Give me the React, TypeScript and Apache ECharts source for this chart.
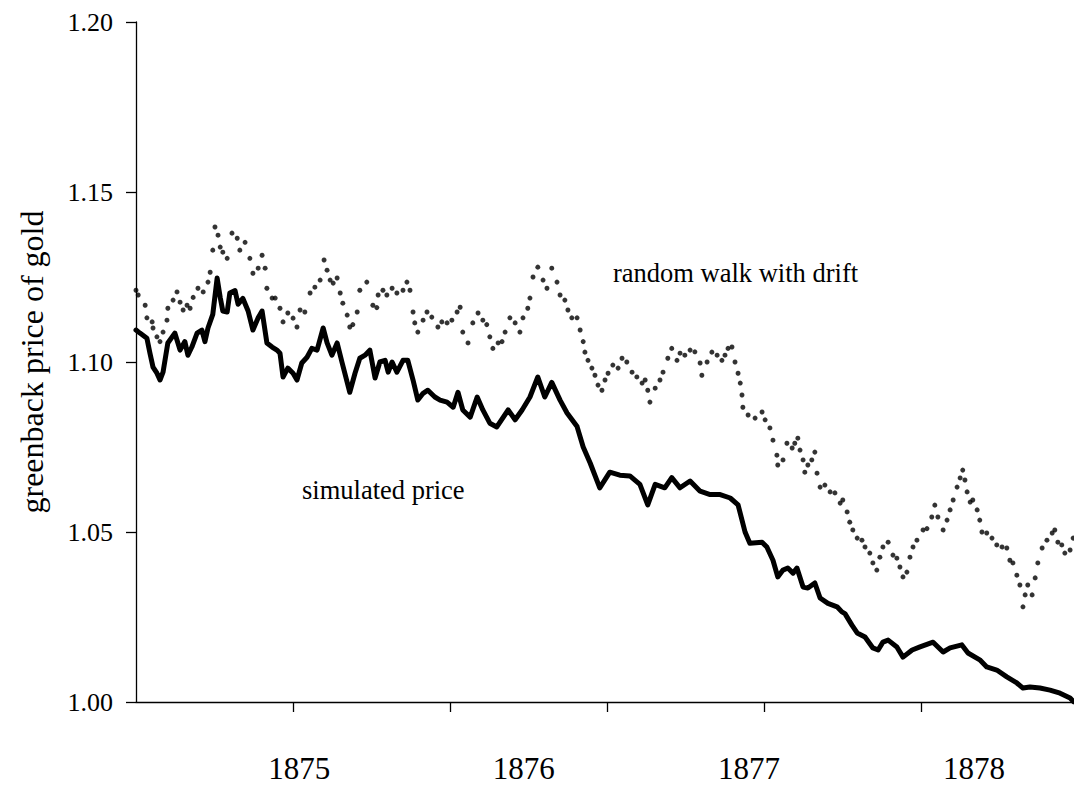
import React, { useEffect, useRef } from "react";
import * as echarts from "echarts";

// x unit: weeks since the first observation
const yearLabels = ["1875", "1876", "1877", "1878"];
const yearLabelWeeks = [37.4, 88.9, 140.5, 192.1];
const tickWeeks = [36, 72, 108, 144, 180];
const yMin = 1.0;
const yMax = 1.2;
const yStep = 0.05;

const simulatedPrice: [number, number][] = [
  [0, 1.1094], [0.9, 1.1085], [2.5, 1.107], [3.2, 1.1026], [3.9, 1.0985], [4.8, 1.0967],
  [5.5, 1.0947], [6.2, 1.097], [7.3, 1.1056], [8.9, 1.1085], [10.1, 1.1035], [11.2, 1.106],
  [11.9, 1.102], [12.8, 1.1044], [14.0, 1.1085], [15.1, 1.1094], [15.8, 1.106], [16.5, 1.11],
  [17.6, 1.114], [18.6, 1.1247], [19.3, 1.119], [19.9, 1.115], [20.9, 1.1147], [21.5, 1.1203],
  [22.7, 1.121], [23.4, 1.117], [24.5, 1.1187], [25.7, 1.115], [26.8, 1.1094], [28.0, 1.113],
  [28.9, 1.115], [30.0, 1.1056], [31.2, 1.1044], [32.3, 1.1035], [33.0, 1.1026], [33.7, 1.0956],
  [34.8, 1.0982], [36.0, 1.0967], [36.9, 1.0947], [38.0, 1.0997], [39.2, 1.1014], [40.3, 1.104],
  [41.5, 1.1035], [42.9, 1.11], [43.8, 1.1056], [44.9, 1.102], [46.1, 1.1056], [47.2, 1.1],
  [49.0, 1.0911], [50.2, 1.0967], [51.3, 1.1011], [52.5, 1.102], [53.6, 1.1035], [54.8, 1.0953],
  [55.9, 1.1], [57.1, 1.1005], [57.8, 1.097], [58.7, 1.1], [59.8, 1.097], [61.2, 1.1005],
  [62.3, 1.1005], [63.5, 1.0947], [64.6, 1.0888], [65.8, 1.0908], [66.9, 1.0917], [68.5, 1.0897],
  [69.7, 1.0888], [71.3, 1.0882], [72.7, 1.0867], [73.8, 1.0911], [74.9, 1.0859], [76.6, 1.0838],
  [78.2, 1.0897], [79.5, 1.0859], [81.1, 1.082], [82.7, 1.0809], [85.3, 1.0859], [86.9, 1.083],
  [88.5, 1.0859], [90.3, 1.0897], [92.1, 1.0956], [93.7, 1.0897], [95.3, 1.094], [97.2, 1.0888],
  [98.8, 1.085], [101.1, 1.081], [102.5, 1.075], [104.1, 1.0703], [106.3, 1.063], [108.6, 1.0676],
  [110.9, 1.0667], [113.2, 1.0665], [115.5, 1.064], [117.3, 1.058], [119.0, 1.064], [121.2, 1.063],
  [122.8, 1.066], [124.7, 1.063], [127.0, 1.065], [129.3, 1.062], [131.6, 1.061], [133.9, 1.061],
  [136.2, 1.06], [138.0, 1.058], [139.6, 1.05], [140.7, 1.0467], [143.5, 1.047], [144.6, 1.0456],
  [146.0, 1.0417], [147.1, 1.0368], [148.3, 1.0388], [149.4, 1.0394], [150.6, 1.0379], [151.5, 1.0394],
  [152.9, 1.0338], [154.0, 1.0335], [155.6, 1.035], [156.8, 1.0306], [158.6, 1.029], [160.7, 1.028],
  [161.8, 1.0265], [162.5, 1.026], [164.1, 1.0226], [165.3, 1.0203], [167.1, 1.0191], [168.9, 1.0159],
  [170.1, 1.0153], [171.2, 1.0176], [172.4, 1.0182], [174.4, 1.0162], [175.8, 1.0132], [177.9, 1.0153],
  [179.7, 1.0162], [182.7, 1.0176], [185.0, 1.0147], [186.6, 1.0159], [189.3, 1.0168], [190.7, 1.0144],
  [193.4, 1.0124], [195.0, 1.0103], [197.3, 1.0094], [199.6, 1.0074], [201.9, 1.0056], [203.3, 1.0041],
  [204.9, 1.0044], [207.2, 1.0041], [209.5, 1.0035], [211.8, 1.0026], [214.1, 1.0012], [215, 1.0],
];

const randomWalk: [number, number][] = [
  [0, 1.1211], [0.5, 1.1197], [2.1, 1.1167], [2.5, 1.113], [3.7, 1.1118], [3.9, 1.11],
  [4.8, 1.1074], [5.5, 1.106], [6.2, 1.1088], [7.1, 1.1123], [7.3, 1.1158], [8.5, 1.1182],
  [9.4, 1.1206], [10.1, 1.1176], [10.8, 1.1153], [11.7, 1.1167], [12.4, 1.1158], [13.1, 1.119],
  [14.2, 1.1217], [15.4, 1.1206], [16.5, 1.1235], [17.0, 1.1264], [17.6, 1.1329], [18.1, 1.1397],
  [18.8, 1.1373], [19.3, 1.1338], [19.9, 1.1323], [20.9, 1.1305], [22.0, 1.1379], [23.2, 1.1364],
  [23.8, 1.1329], [25.0, 1.1352], [26.1, 1.1305], [26.8, 1.1261], [28.0, 1.1276], [28.9, 1.1314],
  [29.6, 1.1276], [30.0, 1.1217], [31.2, 1.1188], [31.9, 1.1188], [33.0, 1.1158], [33.7, 1.1118],
  [34.8, 1.1144], [36.0, 1.1129], [36.9, 1.1103], [37.6, 1.1153], [38.7, 1.1147], [39.9, 1.1203],
  [41.0, 1.122], [42.2, 1.1241], [43.1, 1.13], [43.8, 1.127], [44.5, 1.1241], [45.2, 1.1232],
  [46.1, 1.1247], [46.8, 1.1203], [47.4, 1.1173], [48.4, 1.1138], [49.0, 1.1103], [49.7, 1.111],
  [50.7, 1.1147], [51.3, 1.1211], [52.9, 1.1235], [54.3, 1.1167], [55.2, 1.116], [55.5, 1.1197],
  [56.6, 1.1211], [57.5, 1.1197], [58.7, 1.1217], [59.8, 1.1203], [61.2, 1.1211], [62.1, 1.1235],
  [62.8, 1.1211], [63.5, 1.1147], [63.9, 1.1115], [64.6, 1.1088], [65.8, 1.1123], [66.7, 1.1147],
  [67.8, 1.1132], [69.2, 1.1103], [70.1, 1.1118], [71.3, 1.1115], [72.4, 1.1123], [73.6, 1.1147],
  [74.3, 1.1161], [74.9, 1.1088], [76.1, 1.1056], [77.2, 1.1115], [78.4, 1.1144], [79.5, 1.1123],
  [80.4, 1.111], [81.1, 1.1074], [81.8, 1.104], [83.0, 1.1056], [83.9, 1.106], [84.6, 1.1088],
  [85.7, 1.113], [86.9, 1.1115], [88.0, 1.1088], [88.7, 1.113], [89.8, 1.1158], [90.3, 1.1188],
  [91.0, 1.125], [92.1, 1.1279], [93.3, 1.1241], [94.2, 1.1217], [95.3, 1.1276], [96.5, 1.1235],
  [97.2, 1.1197], [98.3, 1.1182], [99.0, 1.1153], [99.9, 1.113], [101.1, 1.113], [101.8, 1.1094],
  [102.5, 1.106], [102.9, 1.1029], [103.6, 1.1005], [104.5, 1.0982], [105.2, 1.0961], [105.9, 1.0932],
  [106.8, 1.0917], [107.5, 1.0947], [108.2, 1.0967], [109.3, 1.0991], [110.5, 1.0982], [111.4, 1.1011],
  [112.5, 1.1], [113.7, 1.097], [114.8, 1.0956], [116.0, 1.0938], [116.7, 1.0947], [117.3, 1.0917],
  [117.8, 1.0882], [119.0, 1.0923], [120.1, 1.0947], [120.8, 1.097], [121.9, 1.1011], [122.8, 1.104],
  [124.0, 1.1005], [124.7, 1.1026], [125.8, 1.102], [127.0, 1.1035], [128.1, 1.103], [129.3, 1.0997],
  [129.7, 1.0961], [130.9, 1.1], [132.0, 1.1029], [133.2, 1.102], [134.3, 1.1005], [135.0, 1.102],
  [135.7, 1.104], [136.6, 1.1044], [137.3, 1.1], [138.0, 1.0967], [138.5, 1.0938], [138.9, 1.0903],
  [139.1, 1.0867], [140.3, 1.0844], [141.9, 1.0835], [143.5, 1.0853], [144.2, 1.083], [145.3, 1.0806],
  [146.0, 1.077], [146.9, 1.0726], [147.1, 1.0697], [148.3, 1.0712], [149.2, 1.0761], [150.4, 1.0747],
  [151.0, 1.0761], [151.7, 1.0776], [152.2, 1.0741], [152.9, 1.0712], [153.3, 1.0676], [154.0, 1.0697],
  [154.9, 1.0712], [155.6, 1.0735], [156.1, 1.0673], [156.8, 1.0632], [157.9, 1.0638], [159.1, 1.0618],
  [160.2, 1.0615], [161.4, 1.0585], [162.0, 1.0594], [163.0, 1.0559], [163.6, 1.0529], [164.3, 1.0506],
  [165.3, 1.0482], [166.4, 1.0476], [167.1, 1.0456], [168.2, 1.0438], [168.9, 1.0409], [169.8, 1.0388],
  [170.5, 1.0426], [171.2, 1.0456], [172.4, 1.047], [173.5, 1.0432], [174.4, 1.0423], [175.1, 1.0397],
  [175.8, 1.0368], [176.7, 1.0382], [177.4, 1.0426], [178.1, 1.0456], [179.0, 1.0476], [180.4, 1.0506],
  [181.3, 1.051], [182.4, 1.0544], [183.1, 1.0579], [183.8, 1.0544], [185.0, 1.0506], [185.9, 1.0535],
  [186.6, 1.0565], [187.3, 1.0594], [188.2, 1.0632], [188.9, 1.0659], [189.5, 1.0682], [190.0, 1.0653],
  [190.5, 1.0618], [191.2, 1.0588], [191.8, 1.0594], [192.8, 1.0565], [193.4, 1.0535], [193.9, 1.05],
  [195.0, 1.0497], [196.2, 1.0482], [197.3, 1.0462], [198.5, 1.0456], [199.6, 1.0453], [200.3, 1.0417],
  [201.0, 1.0409], [201.9, 1.0373], [202.6, 1.0344], [203.3, 1.028], [203.8, 1.0315], [204.4, 1.0344],
  [205.4, 1.0315], [206.1, 1.0365], [206.7, 1.0409], [207.7, 1.0453], [208.8, 1.0476], [210.0, 1.0497],
  [210.6, 1.0506], [211.3, 1.047], [212.2, 1.0462], [212.9, 1.0438], [214.1, 1.0447], [214.8, 1.0482],
];

const FONT = '"Liberation Serif", "Times New Roman", serif';

export default function App() {
  const ref = useRef<HTMLDivElement>(null);

  useEffect(() => {
    if (!ref.current) return;
    const chart = echarts.init(ref.current, null, { renderer: "svg" });
    chart.setOption({
      animation: false,
      backgroundColor: "#ffffff",
      grid: { left: 136, right: 0, top: 22, bottom: 83, containLabel: false },
      xAxis: {
        type: "value",
        min: 0,
        max: 215,
        axisLine: { show: true, lineStyle: { color: "#000", width: 1.3 } },
        axisTick: {
          show: true,
          customValues: tickWeeks,
          length: 10,
          inside: false,
          lineStyle: { color: "#000", width: 1.3 },
        },
        axisLabel: {
          show: true,
          customValues: yearLabelWeeks,
          formatter: (v: number) => {
            const i = yearLabelWeeks.findIndex((w) => Math.abs(w - v) < 0.01);
            return i >= 0 ? yearLabels[i] : "";
          },
          margin: 66,
          verticalAlign: "middle",
          fontSize: 31,
          fontFamily: FONT,
          color: "#000",
        },
        splitLine: { show: false },
      },
      yAxis: {
        type: "value",
        min: yMin,
        max: yMax,
        interval: yStep,
        name: "greenback price of gold",
        nameLocation: "middle",
        nameGap: 88,
        nameRotate: 90,
        nameTextStyle: { fontSize: 32, fontFamily: FONT, color: "#000" },
        axisLine: { show: true, lineStyle: { color: "#000", width: 1.3 } },
        axisTick: { show: true, length: 10, inside: false, lineStyle: { color: "#000", width: 1.3 } },
        axisLabel: {
          formatter: (v: number) => v.toFixed(2),
          margin: 23,
          fontSize: 26,
          fontFamily: FONT,
          color: "#000",
        },
        splitLine: { show: false },
      },
      series: [
        {
          name: "simulated price",
          type: "line",
          data: simulatedPrice,
          symbol: "none",
          showSymbol: false,
          lineStyle: { color: "#000", width: 5, join: "round", cap: "round" },
          z: 3,
        },
        {
          name: "random walk with drift",
          type: "scatter",
          data: randomWalk,
          symbol: "circle",
          symbolSize: 5,
          itemStyle: { color: "#000" },
          z: 4,
        },
      ],
      graphic: [
        {
          type: "text",
          x: 613,
          y: 273,
          style: {
            text: "random walk with drift",
            fontSize: 26.5,
            fontFamily: FONT,
            fill: "#000",
            align: "left",
            verticalAlign: "middle",
          },
        },
        {
          type: "text",
          x: 302,
          y: 490,
          style: {
            text: "simulated price",
            fontSize: 26.5,
            fontFamily: FONT,
            fill: "#000",
            align: "left",
            verticalAlign: "middle",
          },
        },
      ],
    });
    return () => chart.dispose();
  }, []);

  return (
    <div
      ref={ref}
      style={{ position: "fixed", left: 0, top: 0, width: 1074, height: 785, background: "#fff" }}
    />
  );
}
